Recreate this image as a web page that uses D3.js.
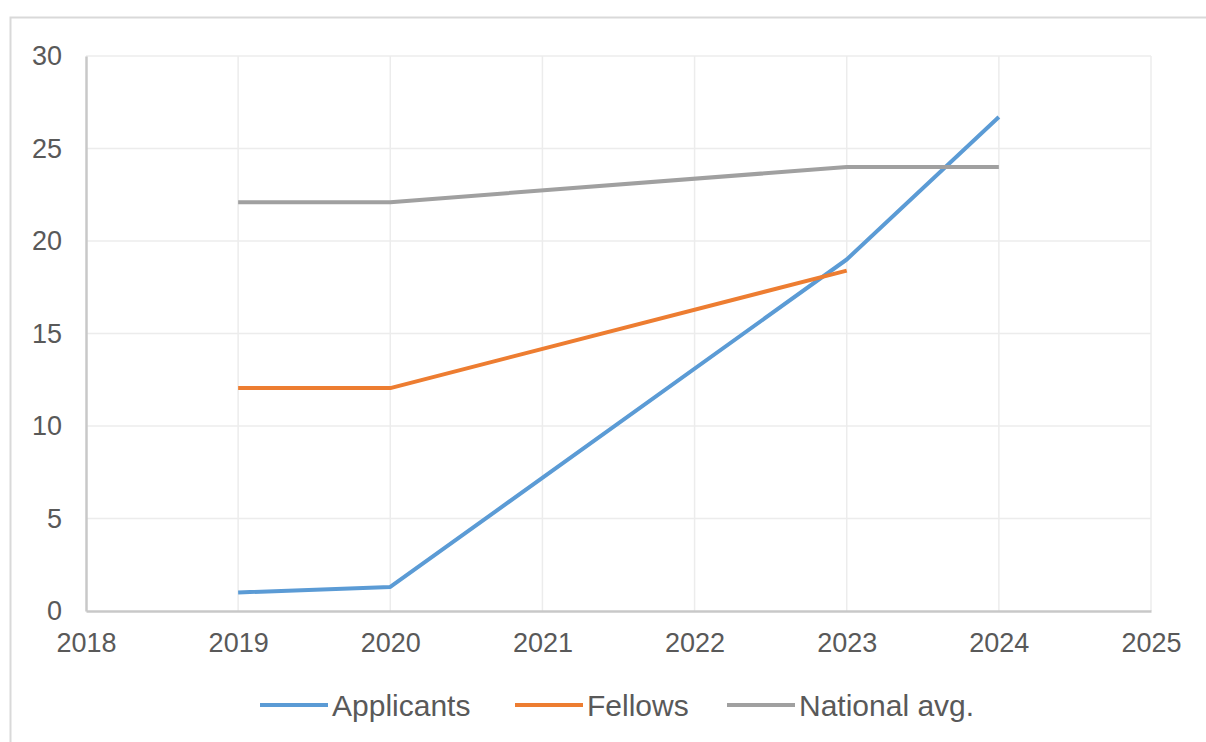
<!DOCTYPE html>
<html>
<head>
<meta charset="utf-8">
<script src="https://cdn.jsdelivr.net/npm/d3@7"></script>
<style>
	body { margin: 0; background: #fff; }
	svg text { font-family: "Liberation Sans", Arial, sans-serif; fill: #595959; }
</style>
</head>
<body>
<svg id="chart" width="1206" height="742"></svg>
<script>
// data
let years = [2019, 2020, 2021, 2022, 2023, 2024];
let applicants = [1.0, 1.3, null, null, 19.0, 26.7];
let fellows = [12.05, 12.05, null, null, 18.4, null];
let nationalAvg = [22.1, 22.1, null, null, 24.0, 24.0];
let xTicks = [2018, 2019, 2020, 2021, 2022, 2023, 2024, 2025];
let yTicks = [0, 5, 10, 15, 20, 25, 30];

let series = [
	{ 'name': 'Applicants', 'values': applicants, 'color': '#5B9BD5' },
	{ 'name': 'Fellows', 'values': fellows, 'color': '#ED7D31' },
	{ 'name': 'National avg.', 'values': nationalAvg, 'color': '#A0A0A0' }
];

let svg = d3.select('svg#chart');
let margin = { top: 56, right: 55, bottom: 131, left: 86 };
let width = 1206 - margin.left - margin.right;
let height = 742 - margin.top - margin.bottom;

// outer frame
svg.append('rect')
	.attr('x', 10.5).attr('y', 17.5)
	.attr('width', 1220).attr('height', 740)
	.attr('fill', 'none')
	.attr('stroke', '#d9d9d9')
	.attr('stroke-width', 2);

let g = svg.append('g').attr('transform', 'translate(' + margin.left + ',' + margin.top + ')');

let x = d3.scaleLinear([2018, 2025], [0, width]);
let y = d3.scaleLinear([0, 30], [height, 0]);

// grid
g.append('g').selectAll('line.hgrid')
	.data(yTicks.slice(1))
	.join('line')
	.attr('class', 'hgrid')
	.attr('x1', 0).attr('x2', width)
	.attr('y1', d => y(d)).attr('y2', d => y(d))
	.attr('stroke', '#ececec').attr('stroke-width', 1.5);
g.append('g').selectAll('line.vgrid')
	.data(xTicks.slice(1))
	.join('line')
	.attr('class', 'vgrid')
	.attr('x1', d => x(d)).attr('x2', d => x(d))
	.attr('y1', 0).attr('y2', height)
	.attr('stroke', '#ececec').attr('stroke-width', 1.5);

// axes
let yAxis = g.append('g')
	.call(d3.axisLeft(y).tickValues(yTicks).tickSize(0).tickPadding(24));
let xAxis = g.append('g')
	.attr('transform', 'translate(0,' + height + ')')
	.call(d3.axisBottom(x).tickValues(xTicks).tickFormat(d3.format('d')).tickSize(0).tickPadding(22));
[yAxis, xAxis].forEach(function (a) {
	a.select('.domain').attr('stroke', '#c8c8c8').attr('stroke-width', 2.5);
	a.selectAll('text')
		.attr('font-size', 27)
		.attr('fill', '#595959')
		.style('font-family', '"Liberation Sans", Arial, sans-serif');
});

// lines
let line = d3.line()
	.x(d => x(d.year))
	.y(d => y(d.value));

g.append('g').selectAll('path.series')
	.data(series)
	.join('path')
	.attr('class', 'series')
	.attr('fill', 'none')
	.attr('stroke', d => d.color)
	.attr('stroke-width', 4)
	.attr('stroke-linejoin', 'round')
	.attr('d', d => line(years.map((yr, i) => ({ 'year': yr, 'value': d.values[i] })).filter(p => p.value != null)));

// legend
let legendX = [260, 515, 727];
let legend = svg.append('g').selectAll('g.legend')
	.data(series)
	.join('g')
	.attr('class', 'legend')
	.attr('transform', (d, i) => 'translate(' + legendX[i] + ',705)');
legend.append('line')
	.attr('x1', 0).attr('x2', 68)
	.attr('y1', 0).attr('y2', 0)
	.attr('stroke', d => d.color)
	.attr('stroke-width', 4);
legend.append('text')
	.attr('x', 72)
	.attr('y', 11)
	.attr('font-size', 30)
	.text(d => d.name);
</script>
</body>
</html>
